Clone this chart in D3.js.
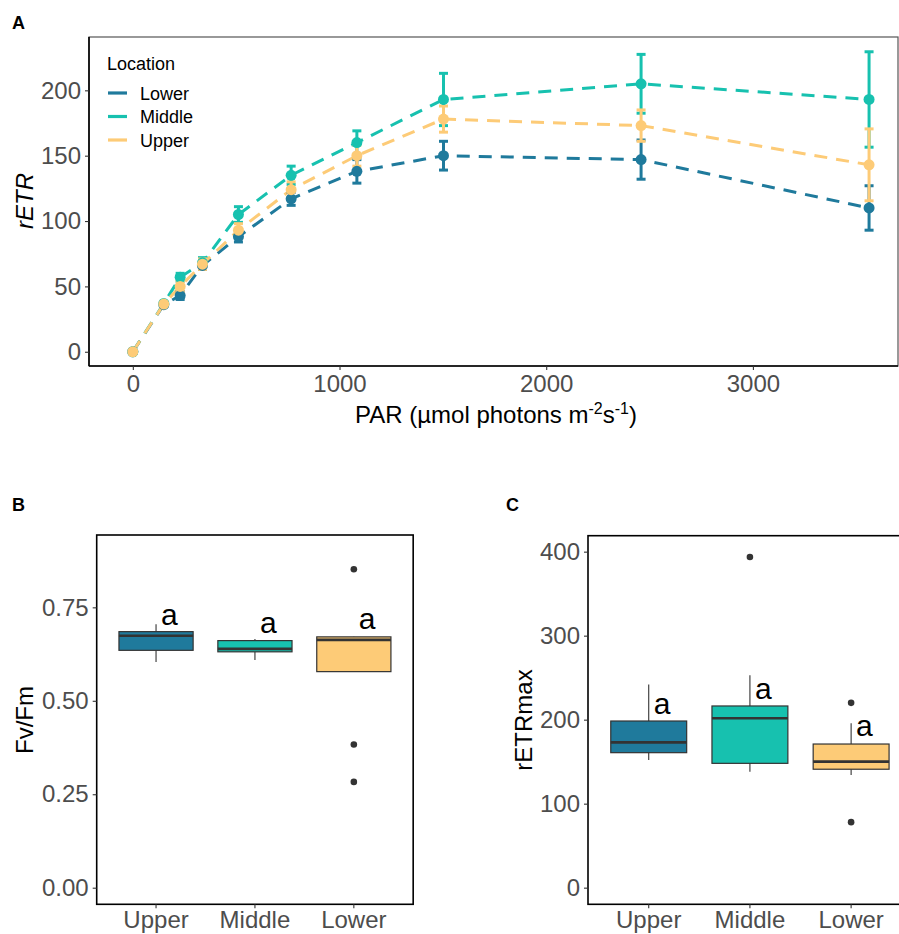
<!DOCTYPE html>
<html>
<head>
<meta charset="utf-8">
<script src="https://cdn.jsdelivr.net/npm/d3@7"></script>
<style>
body { margin: 0; background: #fff; }
text { font-family: "Liberation Sans", Arial, sans-serif; }
</style>
</head>
<body>
<svg id="fig" width="899" height="934"></svg>
<script>
// ---- panel A data: light curves ----
var locations = ['Lower', 'Middle', 'Upper'];
var locColors = ['#1f7a9c', '#17c1af', '#fdcb77'];
var parLevels = [0, 150, 229, 337, 511, 766, 1084, 1503, 2459, 3562];
var etrLower  = [0, 36, 43, 66, 88, 117, 138, 150, 147, 110];
var etrMiddle = [0, 37, 57, 68, 105, 135, 160, 193, 205, 193];
var etrUpper  = [0, 36.5, 50, 67, 93, 124, 150, 178, 173, 143];
var seLower   = [0, 1, 3, 3, 4, 5, 9, 11, 15, 17];
var seMiddle  = [0, 1, 3, 4, 6, 7, 9, 20, 22.5, 36.5];
var seUpper   = [0, 1, 4, 4, 5, 6, 8, 10, 12, 27.5];
var parTicks = [0, 1000, 2000, 3000];
var etrTicks = [0, 50, 100, 150, 200];

// ---- panels B and C data: boxplots (lower whisker, q1, median, q3, upper whisker) ----
var boxGroups = ['Upper', 'Middle', 'Lower'];
var boxColors = ['#1f7a9c', '#17c1af', '#fdcb77'];
var fvfmStats = [
    [0.604, 0.635, 0.674, 0.685, 0.705],
    [0.609, 0.631, 0.639, 0.661, 0.665],
    [0.578, 0.578, 0.663, 0.671, 0.672]
];
var fvfmOutliers = [[], [], [0.852, 0.383, 0.283]];
var fvfmLetterY = [0.703, 0.681, 0.692];
var fvfmTicks = [0, 0.25, 0.5, 0.75];
var retrStats = [
    [152, 160.7, 173, 198.4, 242],
    [138, 148, 201.7, 216.3, 253],
    [134, 141, 150, 171, 195.7]
];
var retrOutliers = [[], [393.7], [220, 78]];
var retrLetterY = [206.5, 224.6, 180.6];
var retrTicks = [0, 100, 200, 300, 400];
var letters = ['a', 'a', 'a'];

var svg = d3.select('#fig');
svg.append('rect').attr('width', 899).attr('height', 934).attr('fill', '#fff');

function styleAxis(g, size) {
    g.select('.domain').remove();
    g.selectAll('.tick line').attr('stroke', '#333').attr('stroke-width', 1.1);
    g.selectAll('.tick text').attr('fill', '#4d4d4d').style('font-size', size + 'px')
        .style('font-family', '"Liberation Sans", Arial, sans-serif');
}

function panelLabel(x, y, t) {
    svg.append('text').attr('x', x).attr('y', y).text(t)
        .style('font-size', '18px').style('font-weight', 'bold').attr('fill', '#000');
}

// ================= Panel A =================
var ax0 = 89, ax1 = 898, ay0 = 37, ay1 = 366;
var xA = d3.scaleLinear().domain([-212, 3702]).range([ax0, ax1]);
var yA = d3.scaleLinear().domain([-10.9, 240.8]).range([ay1, ay0]);

var gA = svg.append('g');
gA.append('rect').attr('x', ax0).attr('y', ay0).attr('width', ax1 - ax0).attr('height', ay1 - ay0)
    .attr('fill', 'none').attr('stroke', '#555').attr('stroke-width', 1.2);

var series = [
    { name: 'Lower', vals: etrLower, se: seLower, color: locColors[0] },
    { name: 'Middle', vals: etrMiddle, se: seMiddle, color: locColors[1] },
    { name: 'Upper', vals: etrUpper, se: seUpper, color: locColors[2] }
];

var line = d3.line()
    .x(function(d, i) { return xA(parLevels[i]); })
    .y(function(d) { return yA(d); });

series.forEach(function(s) {
    gA.append('path').datum(s.vals)
        .attr('d', line)
        .attr('fill', 'none')
        .attr('stroke', s.color)
        .attr('stroke-width', 3)
        .attr('stroke-dasharray', '13,9');
});

series.forEach(function(s) {
    var eb = gA.append('g').attr('stroke', s.color).attr('stroke-width', 3);
    s.vals.forEach(function(v, i) {
        if (s.se[i] <= 0) return;
        var x = xA(parLevels[i]);
        var lo = yA(v - s.se[i]), hi = yA(v + s.se[i]);
        eb.append('line').attr('x1', x).attr('x2', x).attr('y1', lo).attr('y2', hi);
        eb.append('line').attr('x1', x - 4.5).attr('x2', x + 4.5).attr('y1', lo).attr('y2', lo);
        eb.append('line').attr('x1', x - 4.5).attr('x2', x + 4.5).attr('y1', hi).attr('y2', hi);
    });
});

series.forEach(function(s) {
    gA.selectAll(null).data(s.vals).enter().append('circle')
        .attr('cx', function(d, i) { return xA(parLevels[i]); })
        .attr('cy', function(d) { return yA(d); })
        .attr('r', 5.5)
        .attr('fill', s.color);
});

var axA = svg.append('g').attr('transform', 'translate(0,' + ay1 + ')')
    .call(d3.axisBottom(xA).tickValues(parTicks).tickSize(4).tickPadding(5).tickFormat(d3.format('d')));
styleAxis(axA, 24);
var ayA = svg.append('g').attr('transform', 'translate(' + ax0 + ',0)')
    .call(d3.axisLeft(yA).tickValues(etrTicks).tickSize(4).tickPadding(4));
styleAxis(ayA, 24);
gA.append('line').attr('x1', ax0).attr('x2', ax0).attr('y1', ay0).attr('y2', ay1).attr('stroke', '#000').attr('stroke-width', 1.6);
gA.append('line').attr('x1', ax0).attr('x2', ax1).attr('y1', ay1).attr('y2', ay1).attr('stroke', '#000').attr('stroke-width', 1.6);

// legend
var leg = svg.append('g');
leg.append('text').attr('x', 107).attr('y', 70).text('Location').style('font-size', '18px').attr('fill', '#000');
locations.forEach(function(name, i) {
    var y = 93 + i * 23.5;
    leg.append('line').attr('x1', 108).attr('x2', 127).attr('y1', y).attr('y2', y)
        .attr('stroke', locColors[i]).attr('stroke-width', 3.2);
    leg.append('text').attr('x', 140).attr('y', y + 6.5).text(name)
        .style('font-size', '18px').attr('fill', '#000');
});

// axis titles A
var xt = svg.append('text').attr('x', 496).attr('y', 423).attr('text-anchor', 'middle')
    .style('font-size', '24px').attr('fill', '#000');
xt.append('tspan').text('PAR (\u00b5mol photons m');
xt.append('tspan').text('-2').attr('dy', -9).style('font-size', '16px');
xt.append('tspan').text('s').attr('dy', 9);
xt.append('tspan').text('-1').attr('dy', -9).style('font-size', '16px');
xt.append('tspan').text(')').attr('dy', 9);

svg.append('text').attr('transform', 'translate(33,201) rotate(-90)').attr('text-anchor', 'middle')
    .text('rETR').style('font-size', '24px').style('font-style', 'italic').attr('fill', '#000');

panelLabel(12, 29, 'A');

// ================= Box panels =================
// discrete x axis, 0.6 band expansion on both sides
function boxPanel(opt) {
    var x = d3.scaleBand().domain(boxGroups)
        .range([opt.x0 + opt.step * 0.1, opt.x0 + opt.step * 3.1]);
    var cx = function(g) { return x(g) + x.bandwidth() / 2; };
    var y = d3.scaleLinear().domain(opt.ydom).range([opt.y1, opt.y0]);
    var g = svg.append('g');
    var bw = opt.step * 0.75;

    opt.stats.forEach(function(s, i) {
        var c = cx(boxGroups[i]);
        g.append('line').attr('x1', c).attr('x2', c).attr('y1', y(s[0])).attr('y2', y(s[1]))
            .attr('stroke', '#333').attr('stroke-width', 1.1);
        g.append('line').attr('x1', c).attr('x2', c).attr('y1', y(s[3])).attr('y2', y(s[4]))
            .attr('stroke', '#333').attr('stroke-width', 1.1);
        g.append('rect').attr('x', c - bw / 2).attr('width', bw)
            .attr('y', y(s[3])).attr('height', y(s[1]) - y(s[3]))
            .attr('fill', boxColors[i]).attr('stroke', '#333').attr('stroke-width', 1.2);
        g.append('line').attr('x1', c - bw / 2).attr('x2', c + bw / 2).attr('y1', y(s[2])).attr('y2', y(s[2]))
            .attr('stroke', '#333').attr('stroke-width', 2.6);
        g.selectAll(null).data(opt.outliers[i]).enter().append('circle')
            .attr('cx', c).attr('cy', function(d) { return y(d); }).attr('r', 3.3).attr('fill', '#333');
        g.append('text').attr('x', c + 5).attr('y', y(opt.letterY[i])).text(letters[i])
            .style('font-size', '30px').attr('fill', '#000');
    });

    g.append('rect').attr('x', opt.x0).attr('y', opt.y0)
        .attr('width', opt.step * 3.2).attr('height', opt.y1 - opt.y0)
        .attr('fill', 'none').attr('stroke', '#000').attr('stroke-width', 1.6);

    var xa = svg.append('g').attr('transform', 'translate(0,' + opt.y1 + ')')
        .call(d3.axisBottom(x).tickSize(4).tickPadding(3));
    styleAxis(xa, 24);
    var ya = svg.append('g').attr('transform', 'translate(' + opt.x0 + ',0)')
        .call(d3.axisLeft(y).tickValues(opt.ticks).tickSize(4).tickPadding(4).tickFormat(opt.fmt));
    styleAxis(ya, 24);

    svg.append('text').attr('transform', 'translate(' + opt.titleX + ',720) rotate(-90)')
        .attr('text-anchor', 'middle').text(opt.title).style('font-size', '24px').attr('fill', '#000');
}

boxPanel({
    x0: 96.7, step: 98.9, y0: 535, y1: 904.3, ydom: [-0.0444, 0.9435],
    stats: fvfmStats, outliers: fvfmOutliers, letterY: fvfmLetterY,
    ticks: fvfmTicks, fmt: d3.format('.2f'), title: 'Fv/Fm', titleX: 33
});
panelLabel(12, 511, 'B');

boxPanel({
    x0: 588, step: 101.2, y0: 535.7, y1: 904.3, ydom: [-19.8, 419],
    stats: retrStats, outliers: retrOutliers, letterY: retrLetterY,
    ticks: retrTicks, fmt: d3.format('d'), title: 'rETRmax', titleX: 532
});
panelLabel(506, 511, 'C');
</script>
</body>
</html>
